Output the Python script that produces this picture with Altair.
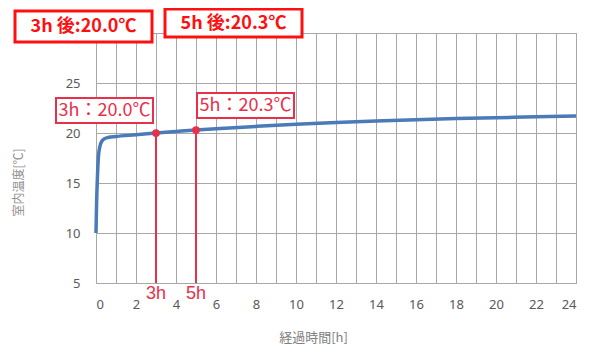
import altair as alt
import pandas as pd

# Curve data (hours elapsed, room temperature °C)
hours = [0, 0.03, 0.07, 0.12, 0.2, 0.3, 0.45, 0.6, 1.0, 2.0, 3, 4, 5, 6, 8, 10, 12, 14, 16, 18, 20, 22, 24]
temps = [10, 13.0, 15.5, 17.6, 18.7, 19.2, 19.45, 19.55, 19.65, 19.82, 20.0, 20.15, 20.3, 20.43, 20.66,
         20.87, 21.05, 21.2, 21.33, 21.44, 21.53, 21.62, 21.7]

# Highlighted points
mark_hours = [3, 5]
mark_temps = [20.0, 20.3]
hour_labels = ["3h", "5h"]
box_labels = ["3h：20.0℃", "5h：20.3℃"]
top_labels = ["3h 後:20.0℃", "5h 後:20.3℃"]

X_MIN, X_MAX = 0, 24
Y_MIN, Y_MAX = 5, 30

curve = pd.DataFrame({"h": hours, "t": temps})
marks = pd.DataFrame({"h": mark_hours, "t": mark_temps, "hl": hour_labels,
                      "bl": box_labels, "tl": top_labels})

RED = "#e8304a"
BRIGHT_RED = "#ff1010"
GRID = "#a8a8a8"
xs = alt.Scale(domain=[X_MIN, X_MAX], nice=False)
ys = alt.Scale(domain=[Y_MIN, Y_MAX], nice=False)

x_axis = alt.Axis(
    values=list(range(X_MIN, X_MAX + 1)), labelOverlap=False,
    labelExpr="datum.value % 2 === 0 ? datum.label : ''",
    title="経過時間[h]", titleX=217, titleY=48, titleFont="Noto Sans CJK JP",
    titleFontSize=13, titleFontWeight="normal", titleColor="#808080",
    labelFont="Noto Sans", labelFontSize=13, labelColor="#595959", labelPadding=15,
    ticks=False, domain=False, gridColor=GRID, gridWidth=1)
y_axis = alt.Axis(
    values=list(range(Y_MIN, Y_MAX + 1, 5)), labelOverlap=False,
    labelExpr="datum.value < 30 ? datum.label : ''",
    title="室内温度[℃]", titleX=-71, titleY=149, titleFont="Noto Sans CJK JP",
    titleFontSize=12, titleFontWeight="normal", titleColor="#909090",
    labelFont="Noto Sans", labelFontSize=13, labelColor="#595959", labelPadding=16,
    ticks=False, domain=False, gridColor=GRID, gridWidth=1)


def X(f):
    return alt.X(f, scale=xs, axis=x_axis, title="経過時間[h]")


def Y(f):
    return alt.Y(f, scale=ys, axis=y_axis, title="室内温度[℃]")


line = alt.Chart(curve).mark_line(color="#4a7ab8", strokeWidth=3.5, interpolate="monotone").encode(
    x=X("h:Q"), y=Y("t:Q"))

mk = alt.Chart(marks).transform_calculate(ylo=str(Y_MIN), yhi=str(Y_MAX))

rules = mk.mark_rule(color=RED, strokeWidth=2).encode(x=X("h:Q"), y=Y("ylo:Q"), y2="t:Q")

points = mk.mark_circle(color=RED, size=60, opacity=1).encode(x=X("h:Q"), y=Y("t:Q"))

hour_text = mk.mark_text(color=RED, fontSize=18, font="Liberation Sans", dy=11,
                         baseline="middle").encode(x=X("h:Q"), y=Y("ylo:Q"), text="hl:N")

layers = [line, rules, points, hour_text]

# In-plot label boxes, anchored on highlighted points (pixel offsets)
inbox = [(-100, -3, -35, -10, -51.5, -22.5), (1, 98, -37, -12, 49.5, -24.5)]
for i, (x0, x1, y0, y1, tx, ty) in enumerate(inbox):
    ch = mk.transform_filter(alt.datum.h == mark_hours[i])
    layers.append(ch.mark_rect(fill="white", stroke=RED, strokeWidth=2,
                               xOffset=x0, x2Offset=x1, yOffset=y0, y2Offset=y1).encode(
        x=X("h:Q"), x2="h:Q", y=Y("t:Q"), y2="t:Q"))
    layers.append(ch.mark_text(color=RED, fontSize=18, font="Noto Sans CJK JP",
                               dx=tx, dy=ty, baseline="middle").encode(
        x=X("h:Q"), y=Y("t:Q"), text="bl:N"))

# Top summary boxes
topbox = [(-141, -4, -22, 9, -72.5, -6), (-31, 106, -24, 4, 37.5, -9)]
for i, (x0, x1, y0, y1, tx, ty) in enumerate(topbox):
    ch = mk.transform_filter(alt.datum.h == mark_hours[i])
    layers.append(ch.mark_rect(fill="white", stroke=BRIGHT_RED, strokeWidth=3,
                               xOffset=x0, x2Offset=x1, yOffset=y0, y2Offset=y1).encode(
        x=X("h:Q"), x2="h:Q", y=Y("yhi:Q"), y2="yhi:Q"))
    layers.append(ch.mark_text(color=BRIGHT_RED, fontSize=18, fontWeight="bold",
                               font="Noto Sans CJK JP", dx=tx, dy=ty,
                               baseline="middle").encode(
        x=X("h:Q"), y=Y("yhi:Q"), text="tl:N"))

chart = alt.layer(*layers).properties(
    width=480, height=250,
    autosize=alt.AutoSizeParams(type="none"),
    padding={"left": 88, "top": 25, "right": 13, "bottom": 62},
    background="white",
).configure_view(stroke=GRID, strokeWidth=1)

chart.save("out.html", embed_options={"renderer": "svg", "actions": False})
